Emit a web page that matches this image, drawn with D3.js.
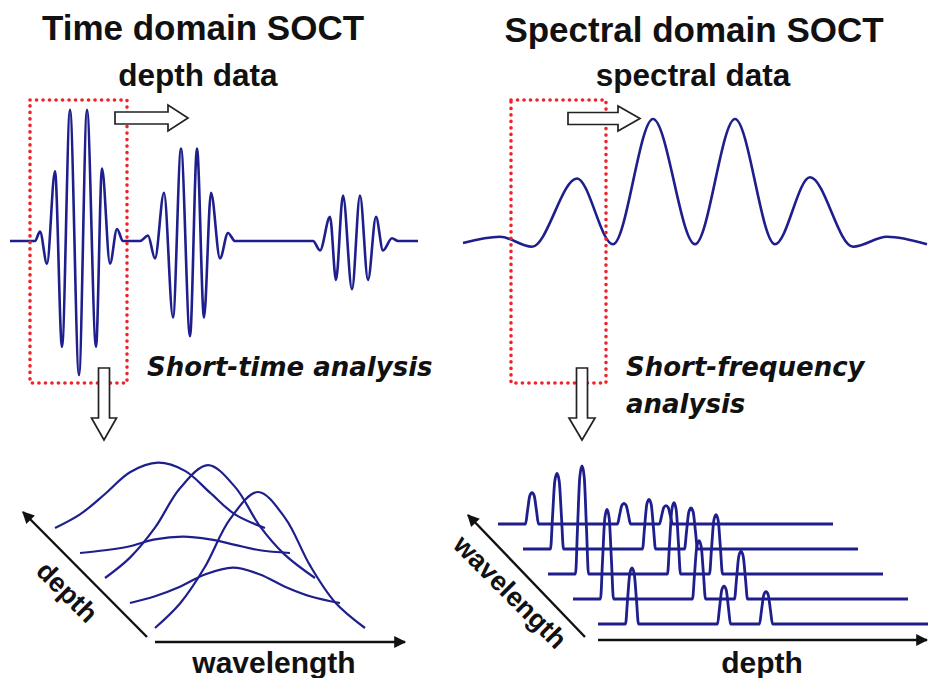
<!DOCTYPE html>
<html>
<head>
<meta charset="utf-8">
<script src="https://cdn.jsdelivr.net/npm/d3@7"></script>
<style>
  html, body { margin: 0; padding: 0; background: #fff; }
  svg { display: block; }
  text { fill: #111; }
</style>
</head>
<body>
<svg id="chart" width="928" height="678"></svg>
<script>
// ---- data ----

// time domain interferogram: delay (a.u.) and normalized amplitude at the extrema
const tdDelay = [0, 25, 30, 37, 45, 52, 60, 69, 77, 86, 92, 100, 107, 113,
                 130, 138, 145, 154, 163, 171, 180, 187, 194, 201, 210, 218, 225,
                 303, 310, 320, 326, 333, 342, 350, 358, 366, 373, 382, 388, 408]
const tdAmp = [0, 0, 0.07, -0.17, 0.52, -0.79, 0.98, -1, 0.98, -0.79, 0.54, -0.17, 0.09, 0,
               0, 0.04, -0.13, 0.36, -0.57, 0.69, -0.71, 0.69, -0.57, 0.36, -0.13, 0.06, 0,
               0, -0.07, 0.18, -0.29, 0.34, -0.36, 0.34, -0.29, 0.18, -0.07, 0.02, 0, 0]

// spectral interferogram: wavenumber (a.u.) and normalized intensity at the extrema
const sdK = [0, 37, 69, 114, 150, 190, 232, 272, 312, 347, 390, 424, 464]
const sdAmp = [0, 0.05, -0.03, 0.52, -0.01, 1, -0.01, 1, -0.01, 0.53, -0.03, 0.05, -0.01]

// short-time analysis: spectrum per depth slice
const blWavelength = [0, 25, 50, 75, 103, 130, 155, 180, 210]
const blIntensity = [
  [0, 0.10, 0.25, 0.41, 0.48, 0.42, 0.26, 0.10, 0],
  [0, 0.02, 0.05, 0.10, 0.12, 0.10, 0.06, 0.02, 0],
  [0, 0.15, 0.37, 0.66, 0.83, 0.67, 0.38, 0.17, 0],
  [0, 0.05, 0.12, 0.21, 0.26, 0.21, 0.12, 0.05, 0],
  [0, 0.18, 0.45, 0.80, 1.00, 0.81, 0.46, 0.19, 0]
]

// short-frequency analysis: reflector depths and peak height per wavelength slice
const brDepth = [34, 126, 168]
const brIntensity = [
  [0.29, 0.19, 0.17],
  [0.70, 0.46, 0.38],
  [1.00, 0.66, 0.55],
  [0.83, 0.54, 0.44],
  [0.52, 0.35, 0.30]
]

const titles = ['Time domain SOCT', 'Spectral domain SOCT']
const subTitles = ['depth data', 'spectral data']

// ---- drawing ----
const svg = d3.select('#chart')
const blue = '#1e1e8c'
const sans = '"Liberation Sans", Arial, sans-serif'
const wide = '"DejaVu Sans", Verdana, sans-serif'

const defs = svg.append('defs')
defs.append('marker')
    .attr('id', 'head')
    .attr('viewBox', '0 0 10 10')
    .attr('refX', 9).attr('refY', 5)
    .attr('markerWidth', 6).attr('markerHeight', 5)
    .attr('markerUnits', 'strokeWidth')
    .attr('orient', 'auto')
  .append('path')
    .attr('d', 'M0,0 L10,5 L0,10 Z')
    .attr('fill', '#111')

// top left: time domain signal
const xTD = d3.scaleLinear().domain([0, 408]).range([10, 418])
const yTD = d3.scaleLinear().domain([-1, 1]).range([375, 107])
const lineTD = d3.line()
    .x(d => xTD(d[0]))
    .y(d => yTD(d[1]))
    .curve(d3.curveMonotoneX)

svg.append('path')
    .attr('d', lineTD(d3.zip(tdDelay, tdAmp)))
    .attr('fill', 'none')
    .attr('stroke', blue)
    .attr('stroke-width', 2.6)

// top right: spectral signal
const xSD = d3.scaleLinear().domain([0, 464]).range([463, 927])
const ySD = d3.scaleLinear().domain([0, 1]).range([243, 119])
const lineSD = d3.line()
    .x(d => xSD(d[0]))
    .y(d => ySD(d[1]))
    .curve(d3.curveMonotoneX)

svg.append('path')
    .attr('d', lineSD(d3.zip(sdK, sdAmp)))
    .attr('fill', 'none')
    .attr('stroke', blue)
    .attr('stroke-width', 2.6)

// red dotted analysis windows
function dottedBox(x0, y0, x1, y1) {
    svg.append('rect')
        .attr('x', x0).attr('y', y0)
        .attr('width', x1 - x0).attr('height', y1 - y0)
        .attr('fill', 'none')
        .attr('stroke', '#f0222a')
        .attr('stroke-width', 3.6)
        .attr('stroke-linecap', 'round')
        .attr('stroke-dasharray', '0.1 6.4')
}
dottedBox(30, 100, 127, 383)
dottedBox(511, 100, 606, 383)

// hollow block arrows
function blockArrow(pts) {
    svg.append('path')
        .attr('d', d3.line()(pts) + 'Z')
        .attr('fill', '#fff')
        .attr('stroke', '#222')
        .attr('stroke-width', 1.7)
        .attr('stroke-linejoin', 'miter')
}
function hArrow(x0, xh, xt, yc, sh, hh) {
    blockArrow([[x0, yc - sh], [xh, yc - sh], [xh, yc - hh], [xt, yc],
                [xh, yc + hh], [xh, yc + sh], [x0, yc + sh]])
}
function vArrow(xc, y0, yh, yt, sh, hh) {
    blockArrow([[xc - sh, y0], [xc - sh, yh], [xc - hh, yh], [xc, yt],
                [xc + hh, yh], [xc + sh, yh], [xc + sh, y0]])
}
hArrow(115, 168, 188, 118, 6, 13)
hArrow(568, 618, 640, 118.5, 6, 12.5)
vArrow(104, 368, 418, 440, 5.5, 12.5)
vArrow(582, 368, 418, 440, 5.5, 13)

// titles
svg.selectAll('text.title')
    .data(titles)
    .join('text')
    .attr('class', 'title')
    .attr('x', (d, i) => i ? 694 : 203)
    .attr('y', (d, i) => i ? 42 : 40)
    .attr('text-anchor', 'middle')
    .style('font-family', sans)
    .style('font-size', '35px')
    .style('font-weight', 'bold')
    .text(d => d)

svg.selectAll('text.sub')
    .data(subTitles)
    .join('text')
    .attr('class', 'sub')
    .attr('x', (d, i) => i ? 693 : 198)
    .attr('y', 86)
    .attr('text-anchor', 'middle')
    .style('font-family', sans)
    .style('font-size', '31.5px')
    .style('font-weight', 'bold')
    .text(d => d)

function italicLabel(x, y, s) {
    svg.append('text')
        .attr('x', x).attr('y', y)
        .style('font-family', wide)
        .style('font-size', '26px')
        .style('font-weight', 'bold')
        .style('font-style', 'italic')
        .text(s)
}
italicLabel(147, 376, 'Short-time analysis')
italicLabel(626, 376, 'Short-frequency')
italicLabel(626, 413, 'analysis')

// bottom left: spectra stacked along depth
const blX = d3.scaleLinear().domain([0, 210]).range([55, 265])
const blStep = d3.scaleLinear().domain([0, 4]).range([0, 100])
const blY = d3.scaleLinear().domain([0, 1]).range([0, 136])
const blBase = 528

const lineBL = d3.line().curve(d3.curveCatmullRom.alpha(0.5))
blIntensity.forEach(function (row, i) {
    let pts = row.map((v, j) => [blX(blWavelength[j]) + blStep(i),
                                 blBase + blStep(i) - blY(v)])
    svg.append('path')
        .attr('d', lineBL(pts))
        .attr('fill', 'none')
        .attr('stroke', blue)
        .attr('stroke-width', 2.2)
})

// bottom right: depth profiles stacked along wavelength
const brX = d3.scaleLinear().domain([0, 335]).range([498, 833])
const brStep = d3.scaleLinear().domain([0, 4]).range([0, 100])
const brY = d3.scaleLinear().domain([0, 1]).range([0, 108])
const brBase = 524
const pulseDx = [-6.5, -4.5, -2.2, 0, 2.2, 4.5, 6.5]
const pulseShape = [0, 0.42, 0.9, 1, 0.9, 0.42, 0]

const lineBR = d3.line().curve(d3.curveMonotoneX)
brIntensity.forEach(function (row, i) {
    let off = brStep(i)
    let y0 = brBase + off
    let pts = [[brX(0) + off, y0]]
    row.forEach(function (v, j) {
        let xc = brX(brDepth[j]) + off
        pulseDx.forEach((dx, k) => pts.push([xc + dx, y0 - brY(v) * pulseShape[k]]))
    })
    pts.push([brX(335) + off, y0])
    svg.append('path')
        .attr('d', lineBR(pts))
        .attr('fill', 'none')
        .attr('stroke', blue)
        .attr('stroke-width', 2.8)
})

// axes of the two analysis panels
function axisArrow(x1, y1, x2, y2) {
    svg.append('line')
        .attr('x1', x1).attr('y1', y1)
        .attr('x2', x2).attr('y2', y2)
        .attr('stroke', '#111')
        .attr('stroke-width', 2.4)
        .attr('marker-end', 'url(#head)')
}
axisArrow(147, 637, 23, 512)
axisArrow(155, 642, 405, 642)
axisArrow(585, 637, 468, 515)
axisArrow(598, 640, 927, 640)

function axisLabel(transform, s, size) {
    svg.append('text')
        .attr('transform', transform)
        .attr('text-anchor', 'middle')
        .style('font-family', sans)
        .style('font-weight', 'bold')
        .style('font-size', size)
        .text(s)
}
axisLabel('translate(274,673)', 'wavelength', '30px')
axisLabel('translate(762,673)', 'depth', '30px')
axisLabel('translate(67,592) rotate(45) translate(0,9)', 'depth', '27px')
axisLabel('translate(510,592) rotate(45) translate(0,9)', 'wavelength', '27px')
</script>
</body>
</html>
